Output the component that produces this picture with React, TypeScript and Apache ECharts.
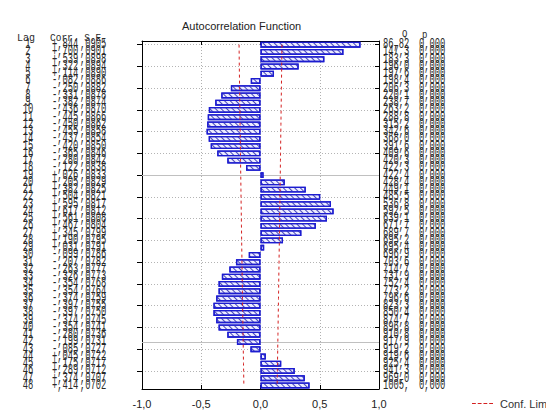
import React, { useEffect, useRef } from 'react';
import * as echarts from 'echarts';

const LAGS = [1, 2, 3, 4, 5, 6, 7, 8, 9, 10, 11, 12, 13, 14, 15, 16, 17, 18, 19, 20, 21, 22, 23, 24, 25, 26, 27, 28, 29, 30, 31, 32, 33, 34, 35, 36, 37, 38, 39, 40, 41, 42, 43, 44, 45, 46, 47, 48];
const CORR = [0.844, 0.700, 0.539, 0.322, 0.114, -0.082, -0.250, -0.331, -0.382, -0.436, -0.445, -0.450, -0.455, -0.437, -0.420, -0.365, -0.280, -0.122, 0.026, 0.205, 0.382, 0.504, 0.595, 0.617, 0.561, 0.467, 0.345, 0.190, 0.031, -0.099, -0.207, -0.263, -0.326, -0.354, -0.354, -0.374, -0.397, -0.397, -0.374, -0.354, -0.280, -0.199, -0.085, 0.045, 0.175, 0.289, 0.374, 0.414];
const SE = [0.0905, 0.0901, 0.0898, 0.0894, 0.0890, 0.0886, 0.0882, 0.0878, 0.0874, 0.0870, 0.0866, 0.0862, 0.0858, 0.0854, 0.0850, 0.0846, 0.0842, 0.0838, 0.0833, 0.0829, 0.0825, 0.0821, 0.0817, 0.0812, 0.0808, 0.0804, 0.0799, 0.0795, 0.0791, 0.0786, 0.0782, 0.0777, 0.0773, 0.0768, 0.0764, 0.0759, 0.0755, 0.0750, 0.0745, 0.0741, 0.0736, 0.0731, 0.0727, 0.0722, 0.0717, 0.0712, 0.0707, 0.0702];
const Q = [86.82, 147.3, 183.3, 196.0, 197.6, 198.4, 206.3, 220.1, 238.7, 263.2, 288.8, 315.2, 342.6, 368.0, 391.6, 409.6, 420.3, 422.3, 422.4, 428.4, 449.1, 485.5, 536.8, 592.5, 639.1, 671.7, 689.7, 695.2, 695.4, 696.9, 703.6, 714.7, 731.9, 752.4, 773.2, 796.6, 823.3, 850.4, 874.7, 896.8, 910.8, 917.9, 919.2, 919.6, 925.4, 941.3, 969.0, 1005];
const P = [0, 0, 0, 0, 0, 0, 0, 0, 0, 0, 0, 0, 0, 0, 0, 0, 0, 0, 0, 0, 0, 0, 0, 0, 0, 0, 0, 0, 0, 0, 0, 0, 0, 0, 0, 0, 0, 0, 0, 0, 0, 0, 0, 0, 0, 0, 0, 0];
const X_TICKS = [-1, -0.5, 0, 0.5, 1];

const MONO = "'Liberation Mono', 'DejaVu Sans Mono', monospace";
const SANS = "'Liberation Sans', Arial, sans-serif";
const DASH_ICON = 'path://M0,0H4V1H0Z M6,0H10V1H6Z M12,0H16V1H12Z M18,0H22V1H18Z';

const fmtCorr = (c: number) => (c >= 0 ? '+' : '-') + ',' + Math.abs(c).toFixed(3).slice(2);
const fmtSe = (s: number) => ',' + s.toFixed(4).slice(2);
const fmtQ = (v: number) =>
  (v < 100 ? v.toFixed(2) : v < 1000 ? v.toFixed(1) : v.toFixed(0) + '.').replace('.', ',');
const fmtP = (v: number) => v.toFixed(3).replace('.', ',');

export default function App() {
  const ref = useRef<HTMLDivElement>(null);
  useEffect(() => {
    document.body.style.margin = '0';
    const chart = echarts.init(ref.current!, null, { renderer: 'svg' });
    const cats = LAGS.map(String);
    chart.setOption({
      animation: false,
      backgroundColor: '#ffffff',
      title: {
        text: 'Autocorrelation Function',
        left: 177,
        top: 15,
        textStyle: { fontSize: 11, fontWeight: 'normal', fontFamily: SANS, color: '#222' },
      },
      legend: {
        data: [{ name: 'Conf. Lim', icon: DASH_ICON }],
        left: 467,
        top: 393,
        itemWidth: 21,
        itemHeight: 1,
        itemGap: 4,
        textStyle: { fontSize: 11, fontFamily: SANS, color: '#333', padding: [0, 0, 0, 2] },
      },
      grid: { left: 142, right: 167, top: 41, bottom: 25 },
      xAxis: [
        {
          type: 'value',
          min: X_TICKS[0],
          max: X_TICKS[X_TICKS.length - 1],
          interval: 0.5,
          position: 'bottom',
          axisLine: { show: true, onZero: false, lineStyle: { color: '#000' } },
          axisTick: { show: true, inside: true, length: 4, lineStyle: { color: '#000' } },
          axisLabel: {
            formatter: (v: number) => v.toFixed(1).replace('.', ','),
            fontSize: 11,
            fontFamily: SANS,
            color: '#222',
            margin: 9,
          },
          splitLine: { show: true, lineStyle: { color: '#b0b0b0', type: [1, 2], width: 1 } },
        },
        {
          type: 'value',
          min: X_TICKS[0],
          max: X_TICKS[X_TICKS.length - 1],
          interval: 0.5,
          position: 'top',
          axisLine: { show: true, onZero: false, lineStyle: { color: '#000' } },
          axisTick: { show: true, inside: true, length: 4, lineStyle: { color: '#000' } },
          axisLabel: { show: false },
          splitLine: { show: false },
        },
      ],
      yAxis: [
        {
          type: 'category',
          data: cats,
          inverse: true,
          axisLine: { show: true, onZero: false, lineStyle: { color: '#000' } },
          axisTick: { show: true, alignWithLabel: true, length: 5, lineStyle: { color: '#000' } },
          axisLabel: { show: false },
          splitLine: { show: true, alignWithLabel: true, lineStyle: { color: '#b4b4b4', type: [1, 2], width: 1 } },
        },
        {
          type: 'category',
          data: cats,
          inverse: true,
          position: 'right',
          axisLine: { show: true, onZero: false, lineStyle: { color: '#000' } },
          axisTick: { show: true, inside: true, alignWithLabel: true, length: 4, lineStyle: { color: '#000' } },
          axisLabel: { show: false },
          splitLine: { show: false },
        },
      ],
      series: [
        {
          type: 'bar',
          name: 'Corr',
          xAxisIndex: 0,
          yAxisIndex: 0,
          data: CORR,
          barWidth: 6,
          z: 2,
          itemStyle: {
            color: '#ececff',
            borderColor: '#1c1cd0',
            borderWidth: 1.3,
            decal: {
              symbol: 'rect',
              symbolSize: 1,
              dashArrayX: [1, 0],
              dashArrayY: [1, 2.2],
              rotation: Math.PI / 4,
              color: '#4848b8',
            },
          },
          markLine: {
            silent: true,
            symbol: 'none',
            z: 1,
            label: { show: false },
            lineStyle: { color: '#c0c0c0', type: 'solid', width: 1 },
            data: [{ yAxis: '19' }, { yAxis: '42' }],
          },
        },
        {
          type: 'line',
          name: 'Conf. Lim',
          xAxisIndex: 0,
          yAxisIndex: 0,
          data: SE.map((s, i) => [-2 * s, i]),
          symbol: 'none',
          z: 3,
          lineStyle: { color: '#d42020', type: [3, 3], width: 1 },
          itemStyle: { color: '#d42020' },
        },
        {
          type: 'line',
          name: 'Conf. Lim',
          xAxisIndex: 0,
          yAxisIndex: 0,
          data: SE.map((s, i) => [2 * s, i]),
          symbol: 'none',
          z: 3,
          lineStyle: { color: '#d42020', type: [3, 3], width: 1 },
          itemStyle: { color: '#d42020' },
        },
      ],
    });

    const els: any[] = [];
    const txt = (x: number, y: number, text: string, align: string, size: number, sy: number) => ({
      type: 'text',
      x,
      y,
      scaleY: sy,
      silent: true,
      style: {
        text,
        fontSize: size,
        fontFamily: MONO,
        fill: '#2a2a2a',
        align,
        verticalAlign: 'middle',
      },
    });
    const topY = (chart.convertToPixel({ yAxisIndex: 0 }, 0) as number) - 7;
    els.push(txt(17, topY, 'Lag', 'left', 10, 1.15));
    els.push(txt(50, topY, 'Corr. S.E.', 'left', 9.5, 1.15));
    els.push(txt(402, topY - 3, 'Q', 'left', 9, 1.15));
    els.push(txt(422, topY - 2, 'p', 'left', 9, 1.15));
    LAGS.forEach((lag, i) => {
      const y = chart.convertToPixel({ yAxisIndex: 0 }, i) as number;
      els.push(txt(28, y, String(lag), 'center', 8.8, 1.6));
      els.push(txt(52, y, fmtCorr(CORR[i]), 'left', 8.8, 1.6));
      els.push(txt(80, y, fmtSe(SE[i]), 'left', 8.8, 1.6));
      els.push(txt(383, y, fmtQ(Q[i]), 'left', 8.8, 1.6));
      els.push(txt(419, y, fmtP(P[i]), 'left', 8.8, 1.6));
    });
    chart.setOption({ graphic: els });

    return () => chart.dispose();
  }, []);
  return (
    <div
      ref={ref}
      style={{ position: 'absolute', left: 0, top: 0, width: 546, height: 414, background: '#fff' }}
    />
  );
}
